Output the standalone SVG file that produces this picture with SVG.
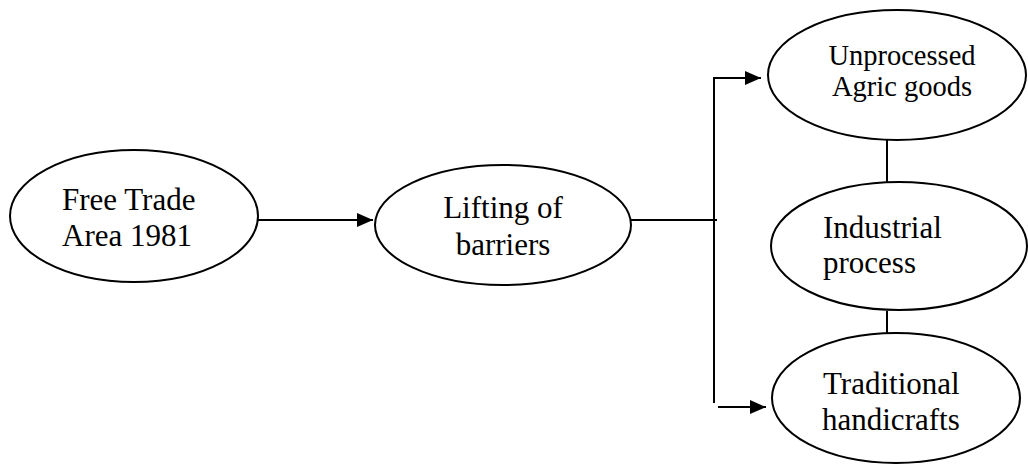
<svg xmlns="http://www.w3.org/2000/svg" width="1028" height="465" viewBox="0 0 1028 465">
<defs>
<style>
.n{fill:#fff;stroke:#000;stroke-width:2}
.t{font-family:"Liberation Serif","Times New Roman",serif;font-size:31px;fill:#000}
.s{font-size:28.5px}
.c{fill:none;stroke:#000;stroke-width:2}
</style>
<marker id="ah2" viewBox="0 0 10 10" refX="10" refY="5" markerWidth="16" markerHeight="14" markerUnits="userSpaceOnUse" orient="auto" preserveAspectRatio="none">
<path d="M0,0 L10,5 L0,10 z" fill="#000"/>
</marker>
</defs>
<rect width="1028" height="465" fill="#fff"/>
<g id="connectors">
<line class="c" x1="258" y1="220" x2="373" y2="220" marker-end="url(#ah2)"/>
<line class="c" x1="631" y1="220" x2="717" y2="220"/>
<polyline class="c" points="714,403 714,78 761,78" marker-end="url(#ah2)"/>
<line class="c" x1="718" y1="407" x2="766" y2="407" marker-end="url(#ah2)"/>
<line class="c" x1="887" y1="140" x2="887" y2="182"/>
<line class="c" x1="887" y1="311" x2="887" y2="333"/>
</g>
<g id="n1">
<ellipse class="n" cx="134" cy="216" rx="124" ry="66"/>
<text class="t" x="62" y="210">Free Trade</text>
<text class="t" x="62" y="246">Area 1981</text>
</g>
<g id="n2">
<ellipse class="n" cx="503" cy="225" rx="128" ry="60"/>
<text class="t" x="503" y="218" text-anchor="middle">Lifting of</text>
<text class="t" x="503" y="255" text-anchor="middle">barriers</text>
</g>
<g id="n3">
<ellipse class="n" cx="897" cy="75" rx="129" ry="65"/>
<text class="t s" x="902" y="65" text-anchor="middle">Unprocessed</text>
<text class="t s" x="902" y="96" text-anchor="middle">Agric goods</text>
</g>
<g id="n4">
<ellipse class="n" cx="899" cy="246" rx="128" ry="64"/>
<text class="t" x="823" y="238">Industrial</text>
<text class="t" x="823" y="273">process</text>
</g>
<g id="n5">
<ellipse class="n" cx="896" cy="398" rx="124" ry="65"/>
<text class="t" x="823" y="394">Traditional</text>
<text class="t" x="822" y="430">handicrafts</text>
</g>
</svg>
